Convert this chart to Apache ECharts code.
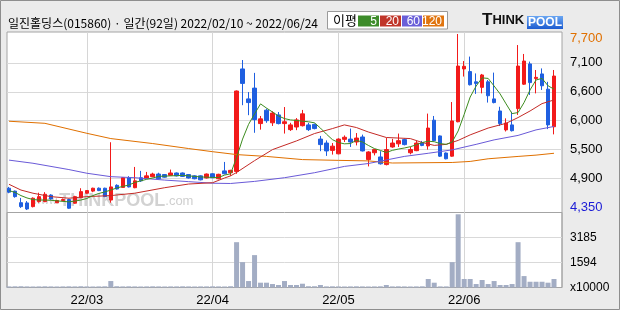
<!DOCTYPE html>
<html><head><meta charset="utf-8">
<script src="https://cdn.jsdelivr.net/npm/echarts@6/dist/echarts.min.js"></script>
<style>html,body{margin:0;padding:0;background:#ebebeb}#c{width:620px;height:310px}</style>
</head><body><div id="c"></div>
<script>
// ---------- data ----------
const dates = [
'2022-02-10','2022-02-11','2022-02-14','2022-02-15','2022-02-16','2022-02-17','2022-02-18','2022-02-21','2022-02-22','2022-02-23','2022-02-24','2022-02-25','2022-02-28',
'2022-03-02','2022-03-03','2022-03-04','2022-03-07','2022-03-08','2022-03-10','2022-03-11','2022-03-14','2022-03-15','2022-03-16','2022-03-17','2022-03-18','2022-03-21','2022-03-22','2022-03-23','2022-03-24','2022-03-25','2022-03-28','2022-03-29','2022-03-30','2022-03-31',
'2022-04-01','2022-04-04','2022-04-05','2022-04-06','2022-04-07','2022-04-08','2022-04-11','2022-04-12','2022-04-13','2022-04-14','2022-04-15','2022-04-18','2022-04-19','2022-04-20','2022-04-21','2022-04-22','2022-04-25','2022-04-26','2022-04-27','2022-04-28','2022-04-29',
'2022-05-02','2022-05-03','2022-05-04','2022-05-06','2022-05-09','2022-05-10','2022-05-11','2022-05-12','2022-05-13','2022-05-16','2022-05-17','2022-05-18','2022-05-19','2022-05-20','2022-05-23','2022-05-24','2022-05-25','2022-05-26','2022-05-27','2022-05-30','2022-05-31',
'2022-06-02','2022-06-03','2022-06-07','2022-06-08','2022-06-09','2022-06-10','2022-06-13','2022-06-14','2022-06-15','2022-06-16','2022-06-17','2022-06-20','2022-06-21','2022-06-22','2022-06-23','2022-06-24'];

const openP  = [4765,4710,4490,4485,4415,4510,4510,4635,4490,4530,4550,4480,4585,4670,4710,4765,4765,4540,4820,4780,4965,4775,4965,4960,4985,5035,5025,5010,5055,5055,5025,5000,5000,4960,5040,4945,5095,5060,5085,7035,6465,6670,5995,6250,6010,6160,5995,5880,5930,5955,5970,5980,5700,5625,5485,5420,5695,5700,5645,5740,5310,5440,5360,5215,5550,5610,5690,5440,5480,5630,5570,6060,5760,5435,5375,6030,7035,6985,6790,6685,6790,6465,6235,5875,5970,6280,6745,7130,6855,6940,6650,5935];
const closeP = [4690,4605,4415,4370,4575,4605,4650,4560,4530,4550,4385,4605,4700,4720,4765,4720,4605,4790,4750,4965,4790,4905,4905,5000,5035,4945,4975,5055,5000,4990,4960,4945,4925,5035,4965,5030,5040,5105,6615,6760,6395,6070,6085,6050,6195,5995,6030,5970,6065,6180,5880,5900,5595,5475,5565,5700,5735,5645,5720,5475,5455,5500,5230,5500,5625,5670,5595,5500,5625,5580,5910,5670,5375,5325,6045,7090,7085,6735,6760,6920,6525,6395,5995,6005,5860,7090,7185,6775,6875,6715,5970,6900];
const lowP   = [4670,4585,4390,4350,4400,4490,4500,4545,4480,4515,4375,4470,4575,4660,4690,4710,4600,4490,4740,4770,4780,4765,4885,4950,4975,4935,4965,5000,4990,4980,4950,4935,4915,4950,4955,4935,5030,5000,5040,6345,6155,5820,5880,6010,5950,5980,5805,5855,5870,5940,5855,5885,5470,5380,5405,5410,5645,5550,5580,5465,5180,5390,5215,5200,5535,5550,5580,5410,5470,5565,5500,5660,5360,5315,5365,6020,6890,6720,6560,6570,6395,6380,5950,5845,5845,6160,6730,6540,6570,6635,5890,5790];
const highP  = [4790,4720,4580,4520,4590,4680,4690,4650,4545,4570,4565,4620,4765,4730,4775,4780,4775,5640,4840,4975,4995,5170,5095,5075,5060,5060,5035,5120,5065,5065,5035,5010,5010,5045,5050,5040,5265,5115,6625,7205,6595,6960,6140,6280,6230,6215,6310,6010,6100,6255,6010,5995,5760,5675,5625,5715,5770,5900,5815,5785,5470,5510,5470,5720,5705,5805,5710,5550,5665,5665,6185,6140,5770,5445,6405,7700,7185,7270,6950,6940,6825,6965,6315,6095,6220,7490,7320,7175,7015,7045,6790,7015];

// volume, unit: 10,000 shares
const volume = [70,75,80,70,65,70,75,70,65,70,75,70,80,70,65,70,75,
  410,
  80,70,75,70,65,70,75,70,65,70,70,75,70,65,70,70,75,70,65,80,
  2875,1610,410,2055,305,305,220,160,410,160,160,240,
  80,80,160,70,75,70,65,70,75,70,65,70,75,
  160,
  70,75,70,65,70,75,
  540,305,70,70,1610,4645,540,540,220,475,220,410,160,160,220,2875,725,365,365,365,305,540];

// moving averages
const ma5 = [4720,4685,4625,4580,4550,4540,4540,4535,4525,4515,4505,4520,4540,4570,4625,4665,4695,4730,4770,4800,4825,4875,4905,4935,4960,4990,4995,5000,5005,5010,5000,4990,4980,4975,4970,4970,5015,5040,5350,5700,5980,6180,6370,6290,6215,6140,6090,6065,6055,6040,6030,6010,5910,5795,5690,5635,5610,5615,5675,5645,5580,5520,5485,5445,5485,5510,5530,5555,5590,5635,5660,5650,5615,5600,5645,5855,6170,6500,6710,6865,6855,6710,6560,6370,6185,6205,6395,6635,6825,6855,6715,6650];
const ma20 = [[0,4840],[2,4730],[4,4670],[7,4605],[10,4575],[13,4605],[17,4625],[21,4670],[26,4775],[30,4845],[34,4870],[36,4960],[37,5000],[38,5065],[41,5290],[44,5500],[48,5665],[51,5805],[54,5900],[56,5970],[58,5920],[60,5835],[63,5730],[67,5710],[69,5635],[71,5580],[73,5600],[75,5675],[77,5780],[80,5910],[83,6000],[85,6110],[87,6235],[89,6375],[91,6445]];
const ma60 = [[0,5300],[4,5240],[10,5120],[13,5050],[17,4985],[21,4965],[26,4920],[30,4890],[34,4860],[37,4855],[41,4895],[46,4965],[51,5060],[56,5180],[60,5235],[66,5370],[70,5430],[74,5495],[78,5600],[81,5685],[85,5770],[88,5875],[91,5940]];
const ma120 = [[0,6040],[6,6000],[13,5810],[17,5710],[24,5615],[30,5520],[34,5460],[38,5405],[43,5370],[49,5310],[55,5295],[60,5285],[64,5245],[74,5255],[77,5275],[80,5325],[85,5370],[88,5395],[91,5430]];

const priceLabels = ['4,350','4,900','5,500','6,000','6,600','7,100','7,700'];
const volLabels = ['x10000','1594','3185'];
const monthTicks = ['2022-03-02','2022-04-01','2022-05-02','2022-06-02'];
const monthLabels = ['22/03','22/04','22/05','22/06'];
const legendItems = ['5','20','60','120'];
const title = '일진홀딩스(015860) · 일간(92일) 2022/02/10 ~ 2022/06/24';

// ---------- chart ----------
const F = "'Liberation Sans', Arial, sans-serif";
const KR = "'Noto Sans CJK KR', sans-serif";
const C_UP = '#f21a1a', C_DN = '#1f5fe0';
const MA_COL = ['#3d8c1f', '#c42a26', '#6a5ad8', '#e07000'];
const vGrid = {
  silent: true, symbol: ['none','none'], z: 1,
  label: {show: false}, emphasis: {disabled: true},
  lineStyle: {color: '#d6d6d6', width: 1, type: 'solid'},
  data: monthTicks.map(d => ({xAxis: d}))
};
const chart = echarts.init(document.getElementById('c'));
const candleData = dates.map((d, i) => [openP[i], closeP[i], lowP[i], highP[i]]);

const lineS = (name, data, col) => ({
  name, type: 'line', data, xAxisIndex: 2, yAxisIndex: 2, symbol: 'none', silent: true,
  connectNulls: true, z: 4, lineStyle: {color: col, width: 1}, itemStyle: {color: col}
});

chart.setOption({
  animation: false,
  backgroundColor: '#ebebeb',
  grid: [
    {left: 7, top: 32, width: 555, height: 255.5, show: true, backgroundColor: '#fff', borderColor: '#a4a4a4', borderWidth: 1},
    {left: 7, top: 34, width: 555, height: 173.4},
    {left: 6, top: 32, width: 551, height: 180.5},
    {left: 6, top: 212.5, width: 551, height: 75},
    {left: 7, top: 212.5, width: 555, height: 75, show: true, backgroundColor: 'transparent', borderColor: '#a4a4a4', borderWidth: 1}
  ],
  xAxis: [
    {gridIndex: 0, type: 'value', min: 0, max: 1, show: false},
    {gridIndex: 1, type: 'value', min: 0, max: 1, show: false},
    {gridIndex: 2, type: 'category', data: dates, boundaryGap: true, show: false},
    {gridIndex: 3, type: 'category', data: dates, boundaryGap: true,
      axisLine: {show: false}, axisTick: {show: false}, splitLine: {show: false},
      axisLabel: {interval: (i, v) => monthTicks.includes(v), formatter: v => monthLabels[monthTicks.indexOf(v)],
        margin: 6, fontSize: 13, color: '#000', fontFamily: F}},
    {gridIndex: 4, type: 'value', min: 0, max: 1, show: false}
  ],
  yAxis: [
    {gridIndex: 0, type: 'value', min: 0, max: 1, show: false},
    {gridIndex: 1, type: 'value', min: 4400, max: 7700, interval: 550, position: 'right',
      axisLine: {show: false}, axisTick: {show: false},
      splitLine: {show: true, showMinLine: false, showMaxLine: false, lineStyle: {color: '#d9d9d9', width: 1}},
      axisLabel: {margin: 8, fontSize: 13, fontFamily: F, color: '#000', showMinLabel: true, showMaxLabel: true,
        formatter: v => { const k = Math.round((v - 4400) / 550); const t = priceLabels[k] || '';
          if (k === 6) return '{mx|' + t + '}'; if (k === 0) return '{mn|' + t + '}'; return t; },
        rich: {mx: {color: '#e07000', fontSize: 13, fontFamily: F, padding: [8, 0, 0, 0]},
               mn: {color: '#1a1ad6', fontSize: 13, fontFamily: F}}}},
    {gridIndex: 2, type: 'value', min: 4303, max: 7738, show: false, splitLine: {show: false}},
    {gridIndex: 3, type: 'value', min: 0, max: 4759, show: false, splitLine: {show: false}},
    {gridIndex: 4, type: 'value', min: 0, max: 4759, interval: 1592.5, position: 'right',
      axisLine: {show: false}, axisTick: {show: false},
      splitLine: {show: true, showMinLine: false, showMaxLine: false, lineStyle: {color: '#d9d9d9', width: 1}},
      axisLabel: {margin: 8, fontSize: 12, fontFamily: F, color: '#000', showMaxLabel: false,
        formatter: v => volLabels[Math.round(v / 1592.5)] || ''}}
  ],
  series: [
    {type: 'candlestick', data: candleData, xAxisIndex: 2, yAxisIndex: 2, barWidth: 4, z: 3, silent: true,
      itemStyle: {color: C_UP, color0: C_DN, borderColor: C_UP, borderColor0: C_DN, borderWidth: 1},
      markLine: vGrid},
    lineS('MA120', ma120, MA_COL[3]),
    lineS('MA60', ma60, MA_COL[2]),
    lineS('MA20', ma20, MA_COL[1]),
    lineS('MA5', ma5, MA_COL[0]),
    {type: 'bar', data: volume, xAxisIndex: 3, yAxisIndex: 3, barWidth: 5, silent: true, z: 3,
      itemStyle: {color: '#a3adc4'}, markLine: vGrid}
  ],
  graphic: [
    {type: 'rect', shape: {x: 0.5, y: 0.5, width: 619, height: 309}, style: {fill: 'none', stroke: '#8e8e8e', lineWidth: 1}, z: 20},
    {type: 'text', x: 8, y: 23, z: 20, style: {text: title, font: '12px ' + KR, fill: '#000', verticalAlign: 'middle'}},
    {type: 'rect', shape: {x: 327.5, y: 11.5, width: 120, height: 17.5}, style: {fill: '#fff', stroke: '#9a9a9a', lineWidth: 1}, z: 20},
    {type: 'text', x: 333, y: 20.5, z: 21, style: {text: '이평', font: '13px ' + KR, fill: '#000', verticalAlign: 'middle'}},
    ...legendItems.map((t, k) => {
      const xs = [358, 380, 402, 423], ws = [21, 21, 20, 21];
      return {type: 'group', z: 21, children: [
        {type: 'rect', z: 21, shape: {x: xs[k], y: 15.5, width: ws[k], height: 11}, style: {fill: ['#3d8c2a', '#c0362a', '#6a5fd8', '#e07510'][k]}},
        {type: 'text', z: 22, x: xs[k] + ws[k] - 2, y: 21.3, style: {text: t, font: '12px ' + F, fill: '#fff', align: 'right', verticalAlign: 'middle'}}
      ]};
    }),
    {type: 'rect', z: 20, shape: {x: 527, y: 16, width: 36, height: 13},
      style: {fill: new echarts.graphic.LinearGradient(0, 0, 0, 1, [{offset: 0, color: '#6aa6f2'}, {offset: 1, color: '#1d5cd0'}])}},
    {type: 'text', z: 21, x: 545, y: 22.8, style: {text: 'POOL', font: 'bold 12px ' + F, fill: '#fff', align: 'center', verticalAlign: 'middle'}},
    {type: 'text', z: 21, x: 482, y: 29, style: {text: '{a|T}{b|HINK}', verticalAlign: 'bottom',
      rich: {a: {font: 'bold 17px ' + F, fill: '#111', textShadowColor: '#999', textShadowOffsetX: 1, textShadowOffsetY: 1},
             b: {font: 'bold 13px ' + F, fill: '#111', textShadowColor: '#999', textShadowOffsetX: 1, textShadowOffsetY: 1}}}},
    {type: 'text', z: 1, x: 33, y: 210, style: {text: '{a|www.}{b|THINKPOOL}{c|.com}', verticalAlign: 'bottom',
      rich: {a: {font: '11px ' + F, fill: '#cfcfcf'}, b: {font: 'bold 18px ' + F, fill: '#d2d2d2'}, c: {font: '13px ' + F, fill: '#cfcfcf'}}}}
  ]
});
</script></body></html>
